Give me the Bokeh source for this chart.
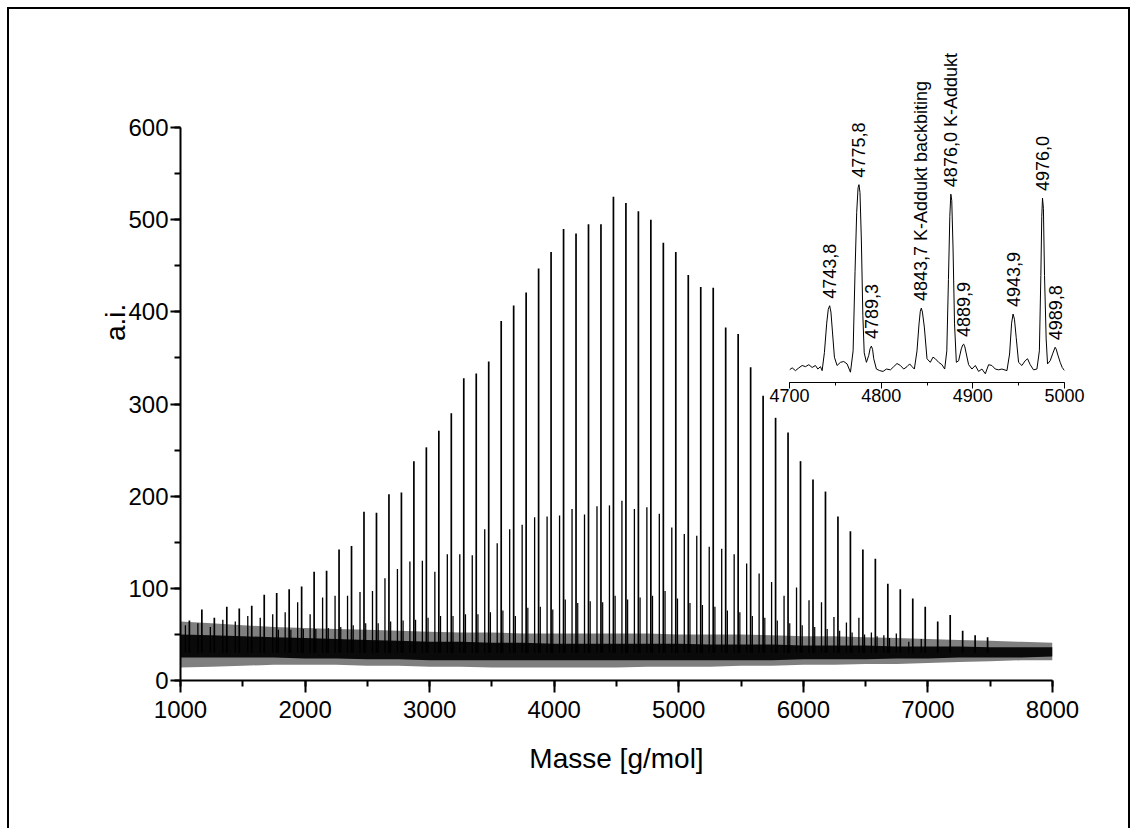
from bokeh.plotting import figure
from bokeh.models import Range1d, SingleIntervalTicker, ColumnDataSource, Div
from bokeh.layouts import column
from bokeh.embed import file_html
from bokeh.resources import INLINE
from bokeh.core.properties import value

FONT = "Liberation Sans"

# ---------------- main spectrum: M+K series (about every 100 Da) ----------------
main_mass = [1071.4, 1171.5, 1271.6, 1371.7, 1471.8, 1572.0, 1672.1, 1772.2, 1872.3, 1972.4,
             2072.6, 2172.7, 2272.8, 2372.9, 2473.0, 2573.2, 2673.3, 2773.4, 2873.5, 2973.6,
             3073.8, 3173.9, 3274.0, 3374.1, 3474.2, 3574.4, 3674.5, 3774.6, 3874.7, 3974.8,
             4075.0, 4175.1, 4275.2, 4375.3, 4475.4, 4575.6, 4675.7, 4775.8, 4876.0, 4976.0,
             5076.2, 5176.3, 5276.4, 5376.5, 5476.6, 5576.8, 5676.9, 5777.0, 5877.1, 5977.2,
             6077.4, 6177.5, 6277.6, 6377.7, 6477.8, 6578.0, 6678.1, 6778.2, 6878.3, 6978.4,
             7078.6, 7178.7, 7278.8, 7378.9, 7479.0]
main_int = [65, 77, 68, 80, 78, 81, 93, 95, 99, 102,
            118, 119, 142, 146, 183, 182, 202, 204, 238, 253,
            271, 290, 328, 333, 346, 390, 407, 421, 447, 465,
            490, 485, 495, 495, 525, 518, 509, 500, 475, 465,
            440, 427, 426, 383, 376, 340, 309, 285, 269, 238,
            218, 205, 178, 162, 142, 132, 105, 99, 89, 80,
            64, 71, 54, 49, 47]

# backbiting series (about 32 Da below the main series)
sec_mass = [1039.4, 1139.5, 1239.6, 1339.7, 1439.8, 1540.0, 1640.1, 1740.2, 1840.3, 1940.4,
            2040.6, 2140.7, 2240.8, 2340.9, 2441.0, 2541.2, 2641.3, 2741.4, 2841.5, 2941.6,
            3041.8, 3141.9, 3242.0, 3342.1, 3442.2, 3542.4, 3642.5, 3742.6, 3842.7, 3942.8,
            4043.0, 4143.1, 4243.2, 4343.3, 4443.4, 4543.6, 4643.7, 4743.8, 4843.7, 4943.9,
            5044.2, 5144.3, 5244.4, 5344.5, 5444.6, 5544.8, 5644.9, 5745.0, 5845.1, 5945.2,
            6045.4, 6145.5, 6245.6, 6345.7, 6445.8, 6546.0, 6646.1, 6746.2, 6846.3, 6946.4]
sec_int = [60, 62, 58, 66, 64, 70, 68, 72, 74, 85,
           72, 90, 92, 92, 96, 97, 111, 121, 129, 130,
           118, 137, 137, 136, 164, 149, 164, 169, 177, 178,
           179, 186, 180, 189, 190, 195, 186, 188, 181, 166,
           159, 157, 145, 143, 137, 127, 116, 107, 92, 101,
           87, 85, 69, 63, 68, 52, 49, 51, 42, 45]

# small series (about 14 Da above the main series)
ter_mass = [1785.9, 1886.0, 1986.1, 2086.3, 2186.4, 2286.5, 2386.6, 2486.7, 2586.9, 2687.0,
            2787.1, 2887.2, 2987.3, 3087.5, 3187.6, 3287.7, 3387.8, 3487.9, 3588.1, 3688.2,
            3788.3, 3888.4, 3988.5, 4088.7, 4188.8, 4288.9, 4389.0, 4489.1, 4589.3, 4689.4,
            4789.3, 4889.9, 4989.8, 5089.9, 5190.0, 5290.1, 5390.2, 5490.3, 5590.5, 5690.6,
            5790.7, 5890.8, 5990.9, 6091.1, 6191.2, 6291.3, 6391.4, 6491.5, 6591.7, 6691.8]
ter_int = [55, 55, 56, 56, 57, 58, 60, 62, 62, 64,
           65, 66, 68, 70, 70, 72, 72, 74, 76, 70,
           79, 80, 77, 88, 84, 86, 85, 92, 88, 90,
           92, 97, 89, 84, 82, 80, 76, 74, 70, 68,
           65, 62, 60, 58, 56, 54, 52, 50, 48, 46]

# noise band read along the mass axis
noise_mass = [1000, 1250, 1500, 1750, 2000, 2250, 2500, 2750, 3000, 3250,
              3500, 3750, 4000, 4250, 4500, 4750, 5000, 5250, 5500, 5750,
              6000, 6250, 6500, 6750, 7000, 7250, 7500, 7750, 8000]
noise_outer_hi = [64, 62, 60, 58, 57, 56, 55, 54, 53, 52, 52, 51, 51, 51, 51,
                  51, 50, 50, 50, 49, 48, 48, 47, 46, 45, 44, 43, 42, 41]
noise_outer_lo = [14, 15, 16, 17, 17, 17, 16, 16, 15, 15, 14, 14, 14, 14, 14,
                  15, 15, 15, 16, 16, 17, 17, 18, 18, 19, 20, 21, 22, 22]
noise_core_hi = [50, 49, 48, 47, 46, 45, 44, 43, 42, 42, 41, 41, 40, 40, 40,
                 40, 40, 39, 39, 39, 38, 38, 38, 37, 37, 37, 36, 36, 36]
noise_core_lo = [25, 25, 25, 25, 24, 24, 23, 23, 22, 22, 22, 22, 22, 22, 22,
                 22, 22, 22, 22, 22, 23, 23, 23, 24, 24, 25, 25, 25, 26]

# ---------------- inset: 4700 - 5000 g/mol ----------------
inset_mass = [4700.0, 4702.9, 4706.5, 4710.2, 4713.8, 4717.4, 4721.1, 4724.7, 4728.3, 4730.9,
              4733.8, 4735.6, 4738.1, 4740.6, 4742.3, 4743.8, 4745.2, 4746.8, 4749.0, 4751.9,
              4755.6, 4759.2, 4762.8, 4766.5, 4769.4, 4771.5, 4773.3, 4774.8, 4775.8, 4776.9,
              4778.4, 4780.0, 4781.5, 4783.9, 4786.4, 4788.0, 4789.3, 4790.6, 4791.9, 4794.8,
              4798.4, 4802.1, 4805.7, 4810.1, 4813.7, 4817.3, 4821.0, 4824.6, 4828.2, 4831.1,
              4833.7, 4836.2, 4839.1, 4841.3, 4842.7, 4843.8, 4845.0, 4847.1, 4850.0, 4853.6,
              4856.5, 4859.1, 4862.7, 4866.3, 4869.3, 4871.6, 4873.4, 4874.9, 4876.0, 4877.0,
              4878.4, 4880.0, 4882.0, 4884.5, 4887.4, 4889.0, 4890.0, 4891.3, 4892.9, 4895.4,
              4899.0, 4902.7, 4906.3, 4909.9, 4913.6, 4917.2, 4920.8, 4924.5, 4928.1, 4931.7,
              4937.2, 4940.1, 4942.3, 4943.9, 4945.4, 4947.3, 4949.9, 4953.5, 4957.1, 4959.7,
              4962.6, 4966.2, 4969.9, 4972.6, 4974.2, 4975.2, 4976.0, 4977.0, 4978.2, 4980.0,
              4981.5, 4984.4, 4987.3, 4989.8, 4991.0, 4992.4, 4995.3, 4997.5, 5000.0]
inset_int = [32, 37, 30, 37, 43, 40, 45, 38, 43, 34,
             40, 30, 76, 150, 185, 194, 178, 130, 64, 43,
             51, 53, 47, 26, 80, 280, 430, 492, 500, 480,
             360, 170, 75, 51, 68, 86, 92, 84, 60, 34,
             30, 28, 34, 32, 40, 48, 43, 34, 40, 47,
             40, 34, 80, 148, 180, 188, 178, 140, 60, 51,
             64, 60, 51, 45, 34, 80, 260, 420, 476, 460,
             340, 150, 51, 55, 85, 95, 97, 90, 72, 45,
             34, 43, 28, 34, 22, 45, 43, 34, 32, 34,
             30, 72, 150, 173, 160, 114, 51, 43, 55, 60,
             45, 32, 34, 80, 270, 420, 466, 440, 270, 110,
             47, 55, 74, 89, 84, 72, 51, 38, 30]
inset_peak_mass = [4743.8, 4775.8, 4789.3, 4843.7, 4876.0, 4889.9, 4943.9, 4976.0, 4989.8]
inset_peak_int = [194, 500, 92, 188, 476, 97, 173, 466, 89]
inset_labels = ["4743,8", "4775,8", "4789,3", "4843,7 K-Addukt backbiting", "4876,0 K-Addukt",
                "4889,9", "4943,9", "4976,0", "4989,8"]

BASE = 30

# ---------------- main figure ----------------
p = figure(width=1138, height=828, x_range=Range1d(1000, 8000), y_range=Range1d(0, 600),
           output_backend="svg", toolbar_location=None,
           min_border_left=180, min_border_right=86, min_border_top=127, min_border_bottom=148,
           background_fill_color="white", border_fill_color="white")
p.outline_line_color = None
p.grid.visible = False

nsrc = ColumnDataSource(dict(x=noise_mass, olo=noise_outer_lo, ohi=noise_outer_hi,
                             clo=noise_core_lo, chi=noise_core_hi))
p.varea(x="x", y1="olo", y2="ohi", source=nsrc, fill_color="black", fill_alpha=0.5)
p.varea(x="x", y1="clo", y2="chi", source=nsrc, fill_color="black", fill_alpha=0.92)

p.segment(x0=ter_mass, y0=[BASE] * len(ter_mass), x1=ter_mass, y1=ter_int,
          line_color="black", line_width=1.2)
p.segment(x0=sec_mass, y0=[BASE] * len(sec_mass), x1=sec_mass, y1=sec_int,
          line_color="black", line_width=1.3)
p.segment(x0=main_mass, y0=[BASE] * len(main_mass), x1=main_mass, y1=main_int,
          line_color="black", line_width=1.7)

for ax in (p.xaxis[0], p.yaxis[0]):
    ax.axis_line_width = 2
    ax.major_tick_line_width = 2
    ax.minor_tick_line_width = 2
    ax.major_tick_in = 0
    ax.minor_tick_in = 0
    ax.major_label_text_font = FONT
    ax.major_label_text_font_size = "24px"
    ax.major_label_text_color = "black"
    ax.axis_label_text_font = FONT
    ax.axis_label_text_font_size = "28px"
    ax.axis_label_text_font_style = "normal"
    ax.axis_label_text_color = "black"

p.xaxis.ticker = SingleIntervalTicker(interval=1000, num_minor_ticks=2)
p.yaxis.ticker = SingleIntervalTicker(interval=100, num_minor_ticks=2)
p.xaxis.major_tick_out = 12
p.xaxis.minor_tick_out = 6
p.yaxis.major_tick_out = 10
p.yaxis.minor_tick_out = 6
p.xaxis.major_label_standoff = 8
p.yaxis.major_label_standoff = 2
p.xaxis.axis_label = "Masse [g/mol]"
p.xaxis.axis_label_standoff = 22
# the original title sits above the middle of the axis: padded with no-break spaces
p.yaxis.axis_label = "\u00a0" * 21 + "a.i."
p.yaxis.axis_label_standoff = -6

# ---------------- inset figure ----------------
inset = figure(width=340, height=382, x_range=Range1d(4700, 5000), y_range=Range1d(0, 839),
               output_backend="svg", toolbar_location=None, y_axis_location=None,
               min_border_left=29, min_border_right=36, min_border_top=10, min_border_bottom=40,
               background_fill_color=None, border_fill_color=None)
inset.outline_line_color = None
inset.grid.visible = False
inset.line(inset_mass, inset_int, line_color="black", line_width=1)
inset.text(x=inset_peak_mass, y=inset_peak_int, text=inset_labels, angle=1.5708,
           text_align="left", text_baseline="middle", y_offset=-7,
           text_font=value(FONT), text_font_size="18px", text_color="black")
ix = inset.xaxis[0]
ix.ticker = SingleIntervalTicker(interval=100, num_minor_ticks=2)
ix.axis_line_width = 1
ix.major_tick_line_width = 1
ix.minor_tick_line_width = 1
ix.major_tick_in = 0
ix.minor_tick_in = 0
ix.major_tick_out = 6
ix.minor_tick_out = 3
ix.major_label_standoff = 0
ix.major_label_text_font = FONT
ix.major_label_text_font_size = "18px"
ix.major_label_text_color = "black"
inset.margin = (-788, 0, 0, 760)

for fig in (p, inset):
    if "frame_align" in fig.properties():
        fig.frame_align = False

# outer frame line of the page (open at the bottom)
border = Div(text="", width=1123, height=821, margin=(-415, 0, 0, 7),
             styles={"border-left": "2px solid black", "border-top": "2px solid black",
                     "border-right": "2px solid black", "box-sizing": "border-box",
                     "pointer-events": "none"})

layout = column(p, inset, border)
open("out.html", "w").write(file_html(layout, INLINE))
